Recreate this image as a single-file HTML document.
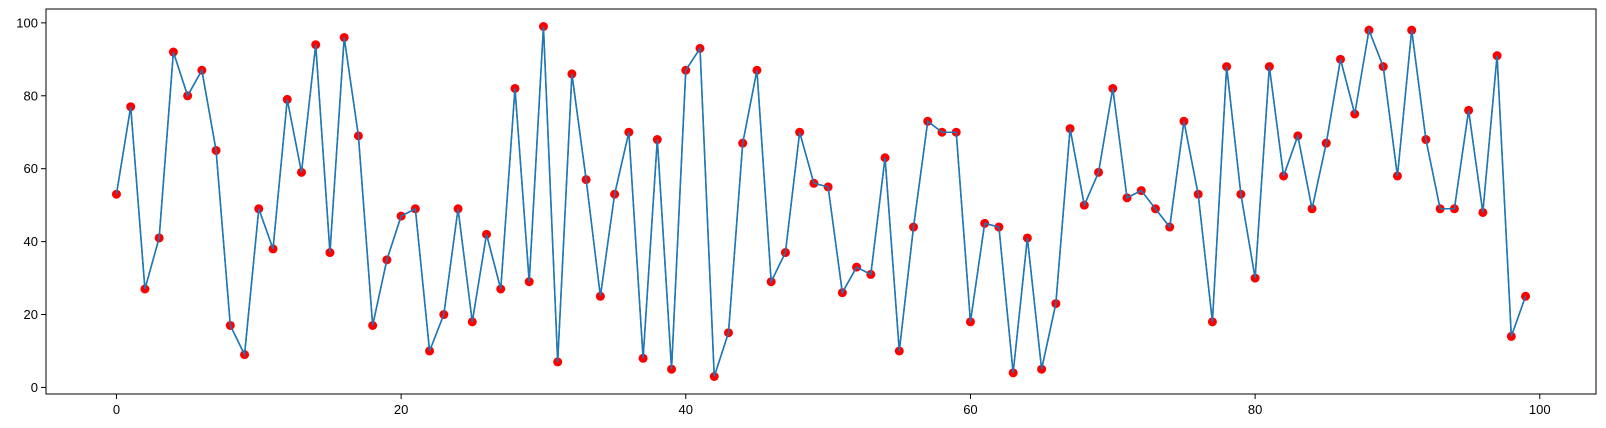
<!DOCTYPE html>
<html><head><meta charset="utf-8"><style>
body{margin:0;background:#fff}
svg{display:block;font-family:"Liberation Sans","DejaVu Sans",sans-serif}
</style></head><body>
<svg id="chart" width="1606" height="428"></svg>
<script>
const xValues = Array.from({length:100},(_,i)=>i);
const yValues = [53,77,27,41,92,80,87,65,17,9,49,38,79,59,94,37,96,69,17,35,47,49,10,20,49,18,42,27,82,29,99,7,86,57,25,53,70,8,68,5,87,93,3,15,67,87,29,37,70,56,55,26,33,31,63,10,44,73,70,70,18,45,44,4,41,5,23,71,50,59,82,52,54,49,44,73,53,18,88,53,30,88,58,69,49,67,90,75,98,88,58,98,68,49,49,76,48,91,14,25];
const xTicks = [0,20,40,60,80,100];
const yTicks = [0,20,40,60,80,100];
const L=46,R=1596,T=9,B=394;
const xmin=-4.95,xmax=103.95,ymin=-1.8,ymax=103.8;
const sx=v=>L+(v-xmin)/(xmax-xmin)*(R-L);
const sy=v=>B-(v-ymin)/(ymax-ymin)*(B-T);
const NS='http://www.w3.org/2000/svg';
const svg=document.getElementById('chart');
function mk(t,a){const e=document.createElementNS(NS,t);for(const k in a)e.setAttribute(k,a[k]);svg.appendChild(e);return e;}
const line=mk('polyline',{points:xValues.map((x,i)=>sx(x)+','+sy(yValues[i])).join(' '),fill:'none',stroke:'#1f77b4','stroke-width':1.5});


xValues.forEach((x,i)=>{
  const c=mk('circle',{cx:sx(x),cy:sy(yValues[i]),r:4.5,fill:'red'});
  
  
});
const line2=mk('polyline',{points:xValues.map((x,i)=>sx(x)+','+sy(yValues[i])).join(' '),fill:'none',stroke:'#1f77b4','stroke-width':1.5});


const frame=mk('rect',{x:L,y:T,width:R-L,height:B-T,fill:'none',stroke:'#000','stroke-width':1});


xTicks.forEach(t=>{
  const tk=mk('line',{x1:sx(t),x2:sx(t),y1:B,y2:B+5,stroke:'#000'});
  
  
  const tx=mk('text',{x:sx(t),y:B+20,'text-anchor':'middle','font-size':13,fill:'#000'});
  tx.textContent=t;
  
  
});
yTicks.forEach(t=>{
  const tk=mk('line',{x1:L-5,x2:L,y1:sy(t),y2:sy(t),stroke:'#000'});
  
  
  const tx=mk('text',{x:L-8,y:sy(t)+4.5,'text-anchor':'end','font-size':13,fill:'#000'});
  tx.textContent=t;
  
  
});
</script>
</body></html>
